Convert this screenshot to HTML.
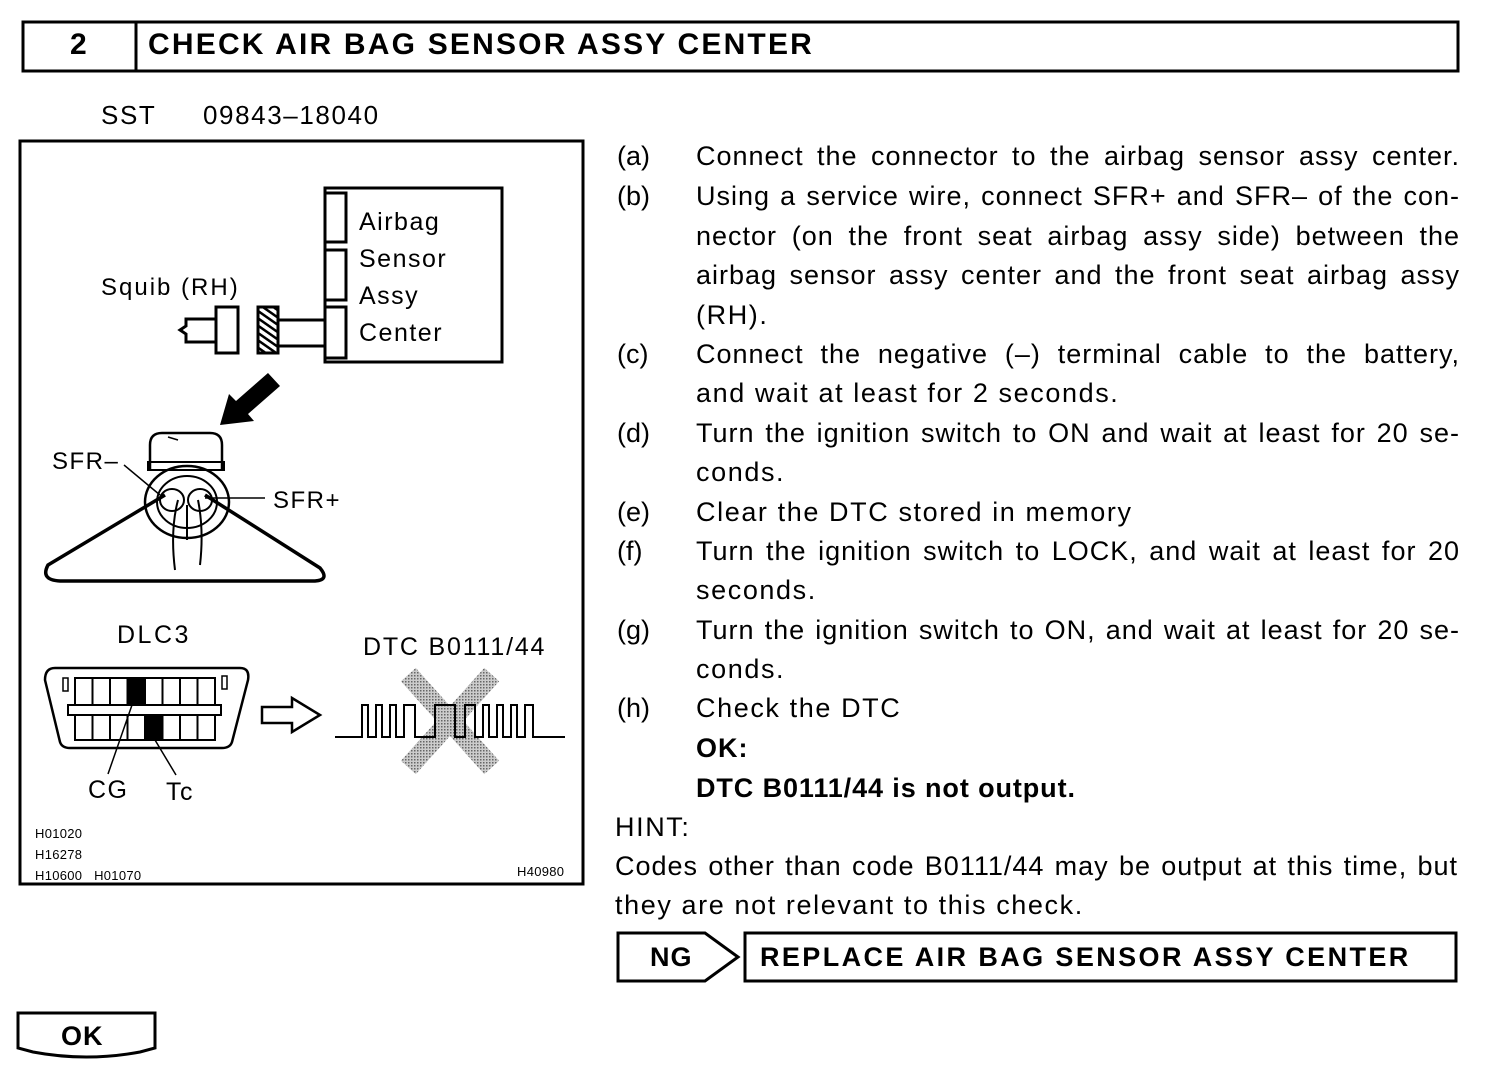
<!DOCTYPE html>
<html><head><meta charset="utf-8"><style>
body{margin:0;width:1504px;height:1076px;background:#fff;position:relative;overflow:hidden;font-family:"Liberation Sans",Arial,sans-serif;color:#000}
.t{position:absolute;font-size:27px;white-space:nowrap;line-height:1;letter-spacing:1.6px}
.j{position:absolute;font-size:27px;line-height:1;text-align:justify;text-align-last:justify;width:764px;left:696px;white-space:nowrap;letter-spacing:1px}
.b{font-weight:bold}
.d{letter-spacing:1.5px}
svg{position:absolute;left:0;top:0}
</style></head><body>
<svg width="1504" height="1076" viewBox="0 0 1504 1076">
<defs>
<pattern id="h" width="6" height="6" patternUnits="userSpaceOnUse" patternTransform="rotate(-55)"><rect width="6" height="6" fill="#fff"/><rect width="2.5" height="6" fill="#000"/></pattern>
<pattern id="g" width="3" height="3" patternUnits="userSpaceOnUse"><rect width="3" height="3" fill="#ccc"/><rect width="1.5" height="1.5" fill="#666"/></pattern>
</defs>
<g fill="none" stroke="#000">
<rect x="23" y="22" width="1435" height="49" stroke-width="3"/>
<line x1="136" y1="22" x2="136" y2="71" stroke-width="3"/>
<rect x="20" y="141" width="563" height="743" stroke-width="3"/>
<rect x="325" y="188" width="177" height="174" stroke-width="3"/>
<rect x="325" y="193" width="21" height="49" stroke-width="3"/>
<rect x="325" y="250" width="21" height="50" stroke-width="3"/>
<rect x="325" y="307" width="21" height="51" stroke-width="3"/>
<rect x="216" y="307" width="22" height="46" stroke-width="3"/>
<path d="M216 319 H186 V326 L180 330 L186 334 V342 H216" stroke-width="3"/>
<rect x="258" y="307" width="20" height="46" fill="url(#h)" stroke-width="3"/>
<line x1="278" y1="320" x2="325" y2="320" stroke-width="3"/>
<line x1="278" y1="346" x2="325" y2="346" stroke-width="3"/>
<path d="M150 470 V445 Q150 433 162 433 H210 Q222 433 222 445 V470" stroke-width="2.5"/>
<rect x="148" y="462" width="76" height="8" stroke-width="2"/>
<ellipse cx="187" cy="502" rx="42" ry="36" stroke-width="2.5"/>
<ellipse cx="187" cy="502" rx="30" ry="26" stroke-width="2"/>
<ellipse cx="172" cy="500" rx="12" ry="11" stroke-width="2"/>
<ellipse cx="200" cy="500" rx="12" ry="11" stroke-width="2"/>
<path d="M178 500 Q170 530 175 570 M198 500 Q204 530 200 565 M187 505 V540" stroke-width="2"/>
<path d="M165 495 L48 565 Q40 580 60 581 H315 Q330 580 320 568 L205 495" stroke-width="3.5"/>
<line x1="124" y1="465" x2="160" y2="495" stroke-width="1.5"/>
<line x1="205" y1="498" x2="265" y2="498" stroke-width="1.5"/>
<path d="M168 437 L178 440" stroke-width="1.5"/>
<path d="M55 668 H240 Q250 668 248 680 L232 742 Q230 748 222 748 H70 Q62 748 60 742 L45 680 Q45 668 55 668Z" stroke-width="2.5"/>
<rect x="75" y="678" width="140" height="27" stroke-width="2"/>
<rect x="75" y="715" width="140" height="25" stroke-width="2"/>
<rect x="68" y="705" width="153" height="10" stroke-width="2"/>
<path d="M92.5 678V705M110 678V705M127.5 678V705M145 678V705M162.5 678V705M180 678V705M197.5 678V705M92.5 715V740M110 715V740M127.5 715V740M145 715V740M162.5 715V740M180 715V740M197.5 715V740" stroke-width="2"/>
<rect x="63" y="678" width="5" height="13" stroke-width="1.5"/>
<rect x="222" y="676" width="5" height="13" stroke-width="1.5"/>
<line x1="132" y1="705" x2="108" y2="774" stroke-width="1.5"/>
<line x1="155" y1="740" x2="176" y2="775" stroke-width="1.5"/>
<path d="M262 707 H292 V698 L320 715 L292 732 V723 H262Z" stroke-width="2.5"/>
</g>
<rect x="127.5" y="678" width="17.5" height="27" fill="#000"/>
<rect x="145" y="715" width="17.5" height="25" fill="#000"/>
<g stroke="url(#g)" stroke-width="20" stroke-linecap="square"><line x1="415" y1="682" x2="485" y2="760"/><line x1="485" y1="682" x2="415" y2="760"/></g>
<path d="M335 737 H362 V705 H368 V737 H376 V705 H382 V737 H390 V705 H396 V737 H404 V705 H415 V737 H435 V705 H455 V737 H465 V705 H475 V737 H483 V705 H489 V737 H497 V705 H503 V737 H511 V705 H517 V737 H525 V705 H533 V737 H565" fill="none" stroke="#000" stroke-width="2"/>
<path d="M268 373 L280 386 L248 414 L254 421 L220 425 L229 394 L236 401Z" fill="#000"/>
<path d="M618 933 H705 L738 957 L705 981 H618Z" fill="none" stroke="#000" stroke-width="3"/>
<rect x="745" y="933" width="711" height="48" fill="none" stroke="#000" stroke-width="3"/>
<path d="M18 1013 H155 V1048 L140 1052 Q86 1062 33 1052 L18 1048Z" fill="none" stroke="#000" stroke-width="3"/>
</svg>
<div class="t b" style="left:70px;top:30px;font-size:30px;letter-spacing:0">2</div>
<div class="t b" style="left:148px;top:30px;font-size:30px;letter-spacing:2.2px">CHECK AIR BAG SENSOR ASSY CENTER</div>
<div class="t" style="left:101px;top:102px;font-size:26px">SST</div>
<div class="t" style="left:203px;top:102px;font-size:26px">09843–18040</div>
<div class="t d" style="left:359px;top:204px;font-size:25px;line-height:37px">Airbag<br>Sensor<br>Assy<br>Center</div>
<div class="t d" style="left:101px;top:276px;font-size:24px;letter-spacing:2px">Squib (RH)</div>
<div class="t d" style="left:52px;top:450px;font-size:24px">SFR–</div>
<div class="t d" style="left:273px;top:489px;font-size:24px">SFR+</div>
<div class="t d" style="left:117px;top:623px;font-size:25px;letter-spacing:2.5px">DLC3</div>
<div class="t d" style="left:363px;top:635px;font-size:25px;letter-spacing:1.8px">DTC B0111/44</div>
<div class="t d" style="left:88px;top:778px;font-size:25px">CG</div>
<div class="t d" style="left:166px;top:780px;font-size:25px">Tc</div>
<div class="t" style="left:35px;top:823px;font-size:13px;line-height:21px;letter-spacing:0.3px">H01020<br>H16278<br>H10600&nbsp;&nbsp;&nbsp;H01070</div>
<div class="t" style="left:517px;top:865px;font-size:13px;letter-spacing:0.3px">H40980</div>

<div class="t" style="left:617px;top:143px;letter-spacing:0">(a)</div><div class="j" style="top:143px">Connect the connector to the airbag sensor assy center.</div>
<div class="t" style="left:617px;top:183px;letter-spacing:0">(b)</div><div class="j" style="top:183px">Using a service wire, connect SFR+ and SFR– of the con-</div>
<div class="j" style="top:223px">nector (on the front seat airbag assy side) between the</div>
<div class="j" style="top:262px">airbag sensor assy center and the front seat airbag assy</div>
<div class="t" style="left:696px;top:302px">(RH).</div>
<div class="t" style="left:617px;top:341px;letter-spacing:0">(c)</div><div class="j" style="top:341px">Connect the negative (–) terminal cable to the battery,</div>
<div class="t" style="left:696px;top:380px">and wait at least for 2 seconds.</div>
<div class="t" style="left:617px;top:420px;letter-spacing:0">(d)</div><div class="j" style="top:420px">Turn the ignition switch to ON and wait at least for 20 se-</div>
<div class="t" style="left:696px;top:459px">conds.</div>
<div class="t" style="left:617px;top:499px;letter-spacing:0">(e)</div><div class="t" style="left:696px;top:499px">Clear the DTC stored in memory</div>
<div class="t" style="left:617px;top:538px;letter-spacing:0">(f)</div><div class="j" style="top:538px">Turn the ignition switch to LOCK, and wait at least for 20</div>
<div class="t" style="left:696px;top:577px">seconds.</div>
<div class="t" style="left:617px;top:617px;letter-spacing:0">(g)</div><div class="j" style="top:617px">Turn the ignition switch to ON, and wait at least for 20 se-</div>
<div class="t" style="left:696px;top:656px">conds.</div>
<div class="t" style="left:617px;top:695px;letter-spacing:0">(h)</div><div class="t" style="left:696px;top:695px">Check the DTC</div>
<div class="t b" style="left:696px;top:735px;letter-spacing:1px">OK:</div>
<div class="t b" style="left:696px;top:775px;letter-spacing:0.9px">DTC B0111/44 is not output.</div>
<div class="t" style="left:615px;top:814px">HINT:</div>
<div class="j" style="left:615px;top:853px;width:843px">Codes other than code B0111/44 may be output at this time, but</div>
<div class="t" style="left:615px;top:892px">they are not relevant to this check.</div>
<div class="t b" style="left:650px;top:944px;letter-spacing:1px">NG</div>
<div class="t b" style="left:760px;top:944px;letter-spacing:2.4px">REPLACE AIR BAG SENSOR ASSY CENTER</div>
<div class="t b" style="left:61px;top:1023px;letter-spacing:1px">OK</div>
</body></html>
